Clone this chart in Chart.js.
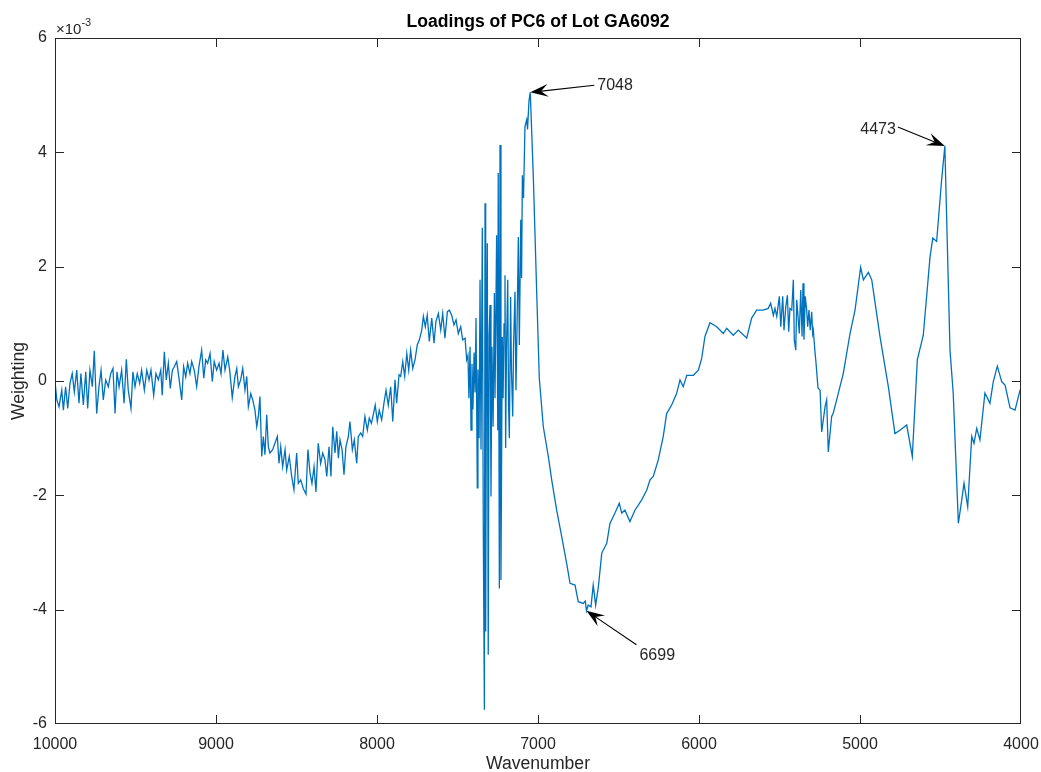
<!DOCTYPE html>
<html>
<head>
<meta charset="utf-8">
<title>Loadings of PC6 of Lot GA6092</title>
<script src="https://cdn.jsdelivr.net/npm/chart.js@4.4.1/dist/chart.umd.min.js"></script>
<style>
  html, body { margin: 0; padding: 0; background: #fff; }
  #wrap { width: 1041px; height: 772px; }
</style>
</head>
<body>
<div id="wrap"><canvas id="loadings" width="1041" height="772"></canvas></div>
<script>
// PC6 loadings, weighting in units of 1e-3, wavenumber in cm^-1 (descending)
const wavenumbers = [
  10000, 9989, 9975, 9958, 9948, 9934, 9921, 9907, 9893, 9880, 9865, 9851, 9839, 9824, 9809, 9797,
  9783, 9768, 9756, 9741, 9727, 9714, 9700, 9685, 9669, 9654, 9640, 9627, 9615, 9602, 9586, 9571,
  9557, 9545, 9528, 9516, 9503, 9489, 9474, 9462, 9445, 9430, 9416, 9404, 9387, 9373, 9358, 9343,
  9334, 9321, 9309, 9296, 9284, 9271, 9259, 9244, 9230, 9213, 9201, 9188, 9176, 9162, 9151, 9135,
  9120, 9106, 9089, 9076, 9064, 9052, 9037, 9023, 9011, 8996, 8981, 8969, 8957, 8944, 8927, 8915,
  8899, 8882, 8871, 8861, 8847, 8834, 8820, 8809, 8799, 8784, 8772, 8758, 8747, 8737, 8727, 8716,
  8706, 8696, 8685, 8675, 8665, 8648, 8634, 8619, 8609, 8598, 8586, 8571, 8561, 8545, 8530, 8516,
  8499, 8489, 8474, 8458, 8441, 8429, 8416, 8404, 8391, 8379, 8365, 8350, 8337, 8323, 8312, 8298,
  8286, 8275, 8261, 8250, 8240, 8230, 8217, 8205, 8193, 8178, 8168, 8153, 8141, 8126, 8116, 8101,
  8089, 8075, 8060, 8048, 8035, 8023, 8011, 7998, 7986, 7971, 7957, 7944, 7930, 7915, 7902, 7888,
  7878, 7863, 7853, 7840, 7828, 7815, 7803, 7791, 7778, 7764, 7750, 7737, 7722, 7712, 7700, 7688,
  7675, 7660, 7646, 7634, 7619, 7604, 7592, 7578, 7563, 7551, 7536, 7522, 7509, 7495, 7480, 7468,
  7453, 7443, 7435,
  7429, 7422, 7416, 7410, 7404, 7397, 7391, 7385, 7377, 7373, 7366, 7360, 7354, 7346, 7340, 7333,
  7329, 7325, 7320, 7315, 7309, 7304, 7298, 7292, 7286, 7279, 7271, 7267, 7257, 7250, 7247, 7240,
  7236, 7230, 7222, 7217, 7211, 7205, 7201, 7196, 7188, 7183, 7178, 7170, 7165, 7157, 7152, 7143,
  7137, 7130, 7122, 7116, 7107, 7102, 7097, 7090, 7081, 7070, 7065, 7056, 7048,
  7029, 7008, 6992, 6967, 6936, 6915, 6884, 6853, 6822, 6801, 6770, 6750, 6719, 6706, 6699, 6688,
  6671, 6657, 6642, 6625, 6604, 6573, 6553, 6522, 6495, 6480, 6460, 6429, 6398, 6356, 6325, 6304,
  6284, 6253, 6222, 6201, 6170, 6139, 6118, 6098, 6076, 6035, 6004, 5983, 5963, 5932, 5890, 5849,
  5828, 5787, 5756, 5714, 5704, 5673, 5642, 5601, 5570,
  5555, 5538, 5528, 5517, 5501, 5492, 5480, 5472, 5461, 5451, 5443, 5435, 5424, 5414, 5408, 5399,
  5393, 5385, 5377, 5368, 5360, 5354, 5348, 5340, 5331, 5325, 5317, 5309, 5300, 5294, 5290,
  5279, 5273, 5261, 5248, 5238, 5217, 5207, 5197, 5176, 5166, 5145, 5104, 5062, 5031, 4996, 4979,
  4948, 4927, 4876, 4824, 4783, 4752, 4710, 4675, 4644, 4607, 4565, 4548, 4524, 4493, 4473,
  4441, 4421, 4389, 4368, 4354, 4331, 4306, 4292, 4275, 4255, 4224, 4193, 4172, 4147, 4120, 4099,
  4068, 4037, 4006, 4000
];

const weighting = [
  0.00, -0.33, -0.45, -0.16, -0.51, -0.10, -0.48, -0.04, 0.13, -0.19, 0.19, -0.39, 0.13, -0.42, 0.16, -0.48,
  0.19, -0.10, 0.53, -0.57, -0.10, 0.19, -0.33, 0.02, -0.10, 0.13, 0.22, -0.57, 0.16, -0.10, 0.19, -0.39,
  0.38, -0.16, -0.48, 0.16, -0.10, 0.13, -0.04, 0.19, -0.16, 0.19, 0.02, 0.19, -0.25, 0.13, 0.02, 0.19,
  -0.25, 0.51, 0.02, 0.31, -0.13, 0.19, 0.25, 0.34, 0.05, -0.33, 0.25, 0.07, 0.31, 0.13, 0.34, 0.19,
  -0.10, 0.25, 0.54, 0.05, 0.37, 0.31, 0.48, -0.01, 0.34, 0.19, 0.31, 0.13, 0.54, 0.19, 0.42, 0.19,
  -0.29, 0.08, 0.22, -0.10, 0.02, 0.22, -0.16, 0.08, -0.45, -0.22, -0.33, -0.51, -0.80, -0.62, -0.27, -1.32,
  -0.97, -1.29, -0.59, -1.15, -1.26, -1.20, -1.09, -0.97, -1.44, -1.15, -1.50, -1.20, -1.56, -1.32, -1.67, -1.90,
  -1.26, -1.79, -1.73, -1.88, -1.98, -1.20, -1.61, -1.79, -1.50, -1.94, -1.09, -1.44, -1.26, -1.38, -1.67, -1.15,
  -1.67, -0.80, -1.26, -0.88, -1.35, -1.03, -1.20, -1.64, -1.15, -0.97, -0.71, -1.20, -1.03, -1.44, -0.97, -0.91,
  -0.97, -0.62, -0.86, -0.65, -0.74, -0.59, -0.42, -0.71, -0.51, -0.68, -0.39, -0.16, -0.42, -0.10, -0.71, 0.02,
  -0.39, 0.11, 0.08, 0.34, 0.08, 0.48, 0.19, 0.54, 0.22, 0.37, 0.63, 0.72, 0.89, 1.13, 0.95, 1.15,
  0.69, 1.10, 0.66, 1.04, 1.18, 0.89, 1.18, 0.75, 1.21, 1.24, 1.15, 0.98, 1.07, 0.83, 0.95, 0.72,
  0.75, 0.37, 0.45,
  -0.30, 0.60, -0.86, 0.30, -0.50, 0.50, -0.20, 1.10, -1.87, 0.20, -1.00, 1.77, -1.20, 2.68, -2.50, -5.75,
  3.11, -4.38, 0.50, 2.41, -4.79, 0.80, 1.33, -2.02, 0.60, -0.80, 1.54, -0.30, 2.55, -0.86, 3.64, -3.63,
  4.13, -3.48, 0.77, -0.30, 1.00, 1.85, -1.17, 0.50, 1.77, -0.40, -1.00, 1.47, 0.20, -0.62, 0.60, 1.56,
  -0.16, 1.00, 2.52, 0.63, 2.82, 1.80, 3.60, 3.20, 4.45, 4.57, 4.40, 4.90, 5.05,
  3.57, 1.54, 0.05, -0.80, -1.32, -1.73, -2.26, -2.72, -3.19, -3.54, -3.57, -3.86, -3.89, -3.85, -4.02, -3.92,
  -3.95, -3.57, -3.92, -3.60, -3.01, -2.84, -2.49, -2.31, -2.14, -2.31, -2.26, -2.46, -2.26, -2.08, -1.91, -1.73,
  -1.67, -1.38, -0.97, -0.57, -0.42, -0.22, 0.02, -0.10, 0.10, 0.10, 0.19, 0.40, 0.78, 1.02, 0.95, 0.83,
  0.92, 0.80, 0.89, 0.78, 0.75, 1.10, 1.24, 1.24, 1.27,
  1.36, 1.15, 1.27, 1.13, 1.48, 0.95, 1.48, 0.89, 1.30, 1.50, 0.86, 1.27, 1.24, 1.77, 0.72, 0.54,
  1.42, 1.13, 0.83, 1.59, 0.78, 1.71, 0.72, 1.48, 1.24, 0.95, 1.24, 0.89, 1.21, 0.83, 0.89,
  0.49, 0.31, -0.12, -0.16, -0.89, -0.45, -0.33, -1.24, -0.62, -0.56, -0.33, 0.13, 0.83, 1.24, 1.99, 1.77,
  1.90, 1.77, 0.78, -0.10, -0.92, -0.86, -0.77, -1.32, 0.37, 0.80, 2.17, 2.50, 2.44, 3.52, 4.11,
  0.54, -0.22, -2.49, -2.08, -1.79, -2.20, -0.97, -1.09, -0.83, -1.03, -0.21, -0.39, -0.01, 0.26, -0.01, -0.07,
  -0.47, -0.51, -0.16, -0.15
];

// axis ticks
const xTicks = [10000, 9000, 8000, 7000, 6000, 5000, 4000];
const yTicks = [-6, -4, -2, 0, 2, 4, 6];

// labelled peaks
const peakWaves = [7048, 6699, 4473];

const FONT = '"Liberation Sans", Arial, Helvetica, sans-serif';
const INK = '#262626';

// where each peak label sits relative to its arrow tip (px)
const noteLayout = {
  7048: { tail: [64, -7], text: [67, -7], align: 'left' },
  6699: { tail: [50, 34], text: [53, 45], align: 'left' },
  4473: { tail: [-47, -19], text: [-49, -16], align: 'right' }
};

function drawArrow(ctx, tx, ty, fx, fy) {
  const len = Math.hypot(fx - tx, fy - ty);
  const ux = (fx - tx) / len, uy = (fy - ty) / len;
  const nx = -uy, ny = ux;
  const L = 18, W = 6.5;
  ctx.beginPath();
  ctx.moveTo(fx, fy);
  ctx.lineTo(tx + ux * L * 0.5, ty + uy * L * 0.5);
  ctx.stroke();
  ctx.beginPath();
  ctx.moveTo(tx, ty);
  ctx.lineTo(tx + ux * L + nx * W, ty + uy * L + ny * W);
  ctx.lineTo(tx + ux * L * 0.6, ty + uy * L * 0.6);
  ctx.lineTo(tx + ux * L - nx * W, ty + uy * L - ny * W);
  ctx.closePath();
  ctx.fill();
}

const matlabAxes = {
  id: 'matlabAxes',
  afterDraw(chart) {
    const { ctx, chartArea: a, scales: { x, y } } = chart;
    ctx.save();

    // box and inward ticks on all four sides (end ticks sit on the box)
    ctx.strokeStyle = INK;
    ctx.lineWidth = 1;
    ctx.strokeRect(a.left + 0.5, a.top + 0.5, a.right - a.left - 1, a.bottom - a.top - 1);
    ctx.beginPath();
    x.ticks.slice(1, -1).forEach(t => {
      const px = Math.round(x.getPixelForValue(t.value)) + 0.5;
      ctx.moveTo(px, a.bottom); ctx.lineTo(px, a.bottom - 9);
      ctx.moveTo(px, a.top); ctx.lineTo(px, a.top + 9);
    });
    y.ticks.slice(1, -1).forEach(t => {
      const py = Math.round(y.getPixelForValue(t.value)) + 0.5;
      ctx.moveTo(a.left, py); ctx.lineTo(a.left + 9, py);
      ctx.moveTo(a.right, py); ctx.lineTo(a.right - 9, py);
    });
    ctx.stroke();

    // exponent multiplier
    ctx.fillStyle = INK;
    ctx.textAlign = 'left';
    ctx.textBaseline = 'alphabetic';
    ctx.font = '15px ' + FONT;
    ctx.fillText('\u00d710', a.left + 1, a.top - 4);
    const w = ctx.measureText('\u00d710').width;
    ctx.font = '11px ' + FONT;
    ctx.fillText('-3', a.left + 1 + w, a.top - 12);

    // title
    ctx.fillStyle = '#000';
    ctx.font = 'bold 17.6px ' + FONT;
    ctx.textAlign = 'center';
    ctx.textBaseline = 'middle';
    ctx.fillText('Loadings of PC6 of Lot GA6092', (a.left + a.right) / 2, 22);

    // peak arrows
    ctx.strokeStyle = '#000';
    ctx.lineWidth = 1.1;
    ctx.font = '16px ' + FONT;
    ctx.textBaseline = 'middle';
    peakWaves.forEach(wn => {
      const i = wavenumbers.indexOf(wn);
      const tx = x.getPixelForValue(wn);
      const ty = y.getPixelForValue(weighting[i]);
      const lay = noteLayout[wn];
      ctx.fillStyle = '#000';
      drawArrow(ctx, tx, ty, tx + lay.tail[0], ty + lay.tail[1]);
      ctx.fillStyle = INK;
      ctx.textAlign = lay.align;
      ctx.fillText(String(wn), tx + lay.text[0], ty + lay.text[1]);
    });
    ctx.restore();
  }
};

const points = wavenumbers.map((w, i) => ({ x: w, y: weighting[i] }));

new Chart(document.getElementById('loadings'), {
  type: 'line',
  data: {
    datasets: [{
      data: points,
      borderColor: '#0072BD',
      borderWidth: 1.3,
      pointRadius: 0,
      tension: 0,
      fill: false
    }]
  },
  options: {
    responsive: false,
    animation: false,
    devicePixelRatio: 1,
    layout: { padding: { top: 38, right: 20, bottom: 0, left: 0 } },
    plugins: {
      legend: { display: false },
      tooltip: { enabled: false },
      title: { display: false }
    },
    scales: {
      x: {
        type: 'linear',
        reverse: true,
        min: 4000,
        max: 10000,
        afterBuildTicks: s => { s.ticks = xTicks.map(v => ({ value: v })); },
        afterFit: s => { s.height = 48; s.paddingLeft = 0; s.paddingRight = 0; },
        grid: { display: false, drawTicks: false },
        border: { display: false },
        ticks: {
          color: INK,
          font: { family: FONT, size: 16 },
          padding: 11,
          maxRotation: 0,
          autoSkip: false,
          callback: v => String(v)
        },
        title: {
          display: true,
          text: 'Wavenumber',
          color: INK,
          font: { family: FONT, size: 17.6 },
          padding: { top: 0, bottom: -3 }
        }
      },
      y: {
        type: 'linear',
        min: -6,
        max: 6,
        afterBuildTicks: s => { s.ticks = yTicks.map(v => ({ value: v })); },
        afterFit: s => { s.width = 55; },
        grid: { display: false, drawTicks: false },
        border: { display: false },
        ticks: {
          color: INK,
          font: { family: FONT, size: 16 },
          padding: 8,
          callback: v => String(v)
        },
        title: {
          display: true,
          text: 'Weighting',
          color: INK,
          font: { family: FONT, size: 17.6 },
          padding: { top: 9, bottom: 0 }
        }
      }
    }
  },
  plugins: [matlabAxes]
});
</script>
</body>
</html>
